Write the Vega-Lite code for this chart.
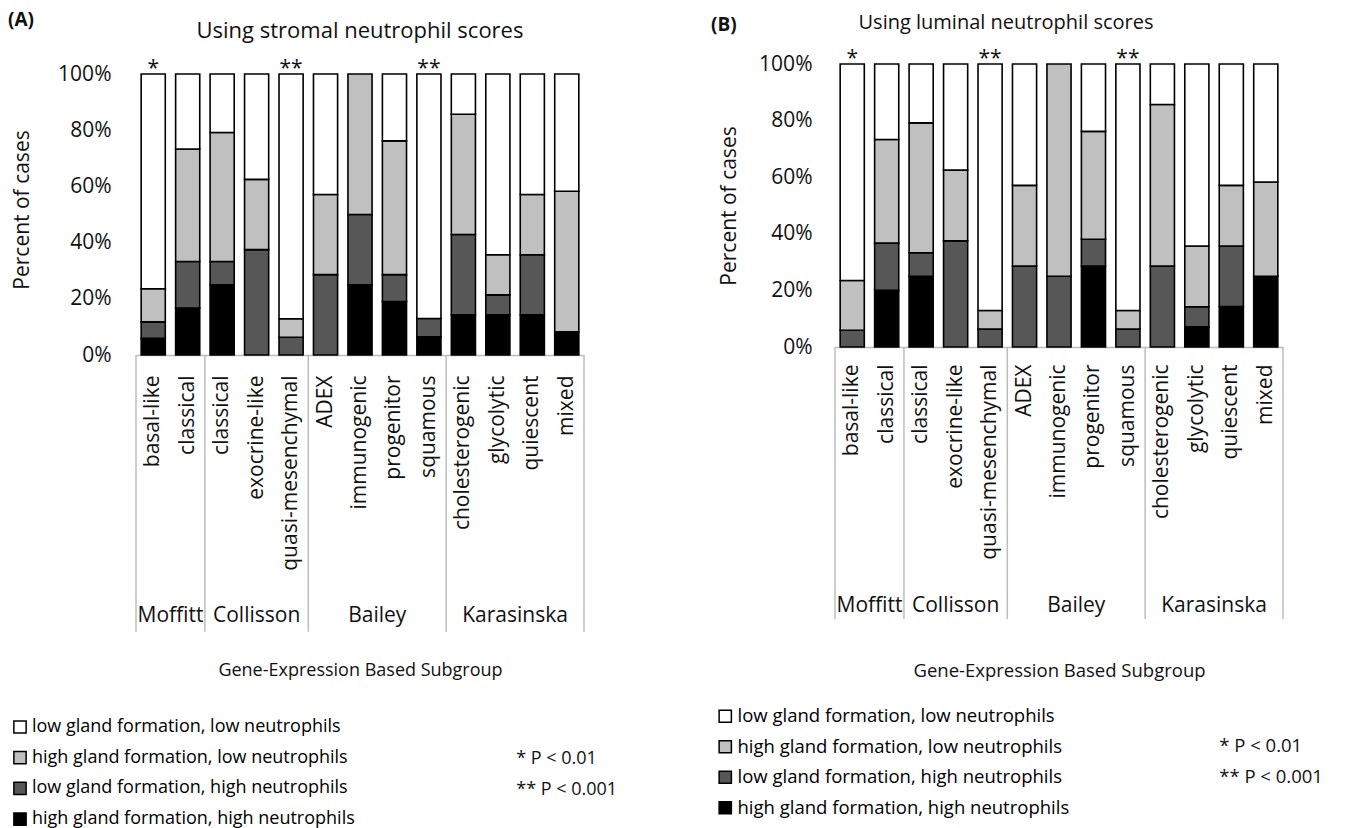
{
  "$schema": "https://vega.github.io/schema/vega-lite/v6.json",
  "background": "white",
  "padding": {"left": 8, "top": 11, "right": 5, "bottom": 0},
  "config": {
    "font": "Open Sans",
    "view": {"stroke": null},
    "axis": {"labelFont": "Open Sans", "titleFont": "Open Sans", "labelColor": "#111", "titleColor": "#111", "titleFontWeight": "normal", "grid": false},
    "title": {"font": "Open Sans", "fontWeight": "normal", "color": "#111"},
    "text": {"font": "Open Sans", "color": "#111"}
  },
  "datasets": {
    "bars": [
      {"p": "A", "k": "Moffitt: basal-like", "q": "b", "v": 5.9},
      {"p": "A", "k": "Moffitt: basal-like", "q": "d", "v": 5.9},
      {"p": "A", "k": "Moffitt: basal-like", "q": "l", "v": 11.8},
      {"p": "A", "k": "Moffitt: basal-like", "q": "w", "v": 76.4},
      {"p": "A", "k": "Moffitt: classical", "q": "b", "v": 16.7},
      {"p": "A", "k": "Moffitt: classical", "q": "d", "v": 16.6},
      {"p": "A", "k": "Moffitt: classical", "q": "l", "v": 40.0},
      {"p": "A", "k": "Moffitt: classical", "q": "w", "v": 26.7},
      {"p": "A", "k": "Collisson: classical", "q": "b", "v": 25.0},
      {"p": "A", "k": "Collisson: classical", "q": "d", "v": 8.3},
      {"p": "A", "k": "Collisson: classical", "q": "l", "v": 45.9},
      {"p": "A", "k": "Collisson: classical", "q": "w", "v": 20.8},
      {"p": "A", "k": "Collisson: exocrine-like", "q": "d", "v": 37.5},
      {"p": "A", "k": "Collisson: exocrine-like", "q": "l", "v": 25.0},
      {"p": "A", "k": "Collisson: exocrine-like", "q": "w", "v": 37.5},
      {"p": "A", "k": "Collisson: quasi-mesenchymal", "q": "d", "v": 6.3},
      {"p": "A", "k": "Collisson: quasi-mesenchymal", "q": "l", "v": 6.6},
      {"p": "A", "k": "Collisson: quasi-mesenchymal", "q": "w", "v": 87.1},
      {"p": "A", "k": "Bailey: ADEX", "q": "d", "v": 28.6},
      {"p": "A", "k": "Bailey: ADEX", "q": "l", "v": 28.5},
      {"p": "A", "k": "Bailey: ADEX", "q": "w", "v": 42.9},
      {"p": "A", "k": "Bailey: immunogenic", "q": "b", "v": 25.0},
      {"p": "A", "k": "Bailey: immunogenic", "q": "d", "v": 25.0},
      {"p": "A", "k": "Bailey: immunogenic", "q": "l", "v": 50.0},
      {"p": "A", "k": "Bailey: progenitor", "q": "b", "v": 19.0},
      {"p": "A", "k": "Bailey: progenitor", "q": "d", "v": 9.6},
      {"p": "A", "k": "Bailey: progenitor", "q": "l", "v": 47.6},
      {"p": "A", "k": "Bailey: progenitor", "q": "w", "v": 23.8},
      {"p": "A", "k": "Bailey: squamous", "q": "b", "v": 6.5},
      {"p": "A", "k": "Bailey: squamous", "q": "d", "v": 6.5},
      {"p": "A", "k": "Bailey: squamous", "q": "w", "v": 87.0},
      {"p": "A", "k": "Karasinska: cholesterogenic", "q": "b", "v": 14.3},
      {"p": "A", "k": "Karasinska: cholesterogenic", "q": "d", "v": 28.6},
      {"p": "A", "k": "Karasinska: cholesterogenic", "q": "l", "v": 42.8},
      {"p": "A", "k": "Karasinska: cholesterogenic", "q": "w", "v": 14.3},
      {"p": "A", "k": "Karasinska: glycolytic", "q": "b", "v": 14.3},
      {"p": "A", "k": "Karasinska: glycolytic", "q": "d", "v": 7.1},
      {"p": "A", "k": "Karasinska: glycolytic", "q": "l", "v": 14.3},
      {"p": "A", "k": "Karasinska: glycolytic", "q": "w", "v": 64.3},
      {"p": "A", "k": "Karasinska: quiescent", "q": "b", "v": 14.3},
      {"p": "A", "k": "Karasinska: quiescent", "q": "d", "v": 21.4},
      {"p": "A", "k": "Karasinska: quiescent", "q": "l", "v": 21.4},
      {"p": "A", "k": "Karasinska: quiescent", "q": "w", "v": 42.9},
      {"p": "A", "k": "Karasinska: mixed", "q": "b", "v": 8.3},
      {"p": "A", "k": "Karasinska: mixed", "q": "l", "v": 50.0},
      {"p": "A", "k": "Karasinska: mixed", "q": "w", "v": 41.7},

      {"p": "B", "k": "Moffitt: basal-like", "q": "d", "v": 5.9},
      {"p": "B", "k": "Moffitt: basal-like", "q": "l", "v": 17.6},
      {"p": "B", "k": "Moffitt: basal-like", "q": "w", "v": 76.5},
      {"p": "B", "k": "Moffitt: classical", "q": "b", "v": 20.0},
      {"p": "B", "k": "Moffitt: classical", "q": "d", "v": 16.7},
      {"p": "B", "k": "Moffitt: classical", "q": "l", "v": 36.6},
      {"p": "B", "k": "Moffitt: classical", "q": "w", "v": 26.7},
      {"p": "B", "k": "Collisson: classical", "q": "b", "v": 25.0},
      {"p": "B", "k": "Collisson: classical", "q": "d", "v": 8.3},
      {"p": "B", "k": "Collisson: classical", "q": "l", "v": 45.9},
      {"p": "B", "k": "Collisson: classical", "q": "w", "v": 20.8},
      {"p": "B", "k": "Collisson: exocrine-like", "q": "d", "v": 37.5},
      {"p": "B", "k": "Collisson: exocrine-like", "q": "l", "v": 25.0},
      {"p": "B", "k": "Collisson: exocrine-like", "q": "w", "v": 37.5},
      {"p": "B", "k": "Collisson: quasi-mesenchymal", "q": "d", "v": 6.3},
      {"p": "B", "k": "Collisson: quasi-mesenchymal", "q": "l", "v": 6.6},
      {"p": "B", "k": "Collisson: quasi-mesenchymal", "q": "w", "v": 87.1},
      {"p": "B", "k": "Bailey: ADEX", "q": "d", "v": 28.6},
      {"p": "B", "k": "Bailey: ADEX", "q": "l", "v": 28.5},
      {"p": "B", "k": "Bailey: ADEX", "q": "w", "v": 42.9},
      {"p": "B", "k": "Bailey: immunogenic", "q": "d", "v": 25.0},
      {"p": "B", "k": "Bailey: immunogenic", "q": "l", "v": 75.0},
      {"p": "B", "k": "Bailey: progenitor", "q": "b", "v": 28.6},
      {"p": "B", "k": "Bailey: progenitor", "q": "d", "v": 9.5},
      {"p": "B", "k": "Bailey: progenitor", "q": "l", "v": 38.1},
      {"p": "B", "k": "Bailey: progenitor", "q": "w", "v": 23.8},
      {"p": "B", "k": "Bailey: squamous", "q": "d", "v": 6.3},
      {"p": "B", "k": "Bailey: squamous", "q": "l", "v": 6.6},
      {"p": "B", "k": "Bailey: squamous", "q": "w", "v": 87.1},
      {"p": "B", "k": "Karasinska: cholesterogenic", "q": "d", "v": 28.6},
      {"p": "B", "k": "Karasinska: cholesterogenic", "q": "l", "v": 57.1},
      {"p": "B", "k": "Karasinska: cholesterogenic", "q": "w", "v": 14.3},
      {"p": "B", "k": "Karasinska: glycolytic", "q": "b", "v": 7.1},
      {"p": "B", "k": "Karasinska: glycolytic", "q": "d", "v": 7.1},
      {"p": "B", "k": "Karasinska: glycolytic", "q": "l", "v": 21.5},
      {"p": "B", "k": "Karasinska: glycolytic", "q": "w", "v": 64.3},
      {"p": "B", "k": "Karasinska: quiescent", "q": "b", "v": 14.3},
      {"p": "B", "k": "Karasinska: quiescent", "q": "d", "v": 21.4},
      {"p": "B", "k": "Karasinska: quiescent", "q": "l", "v": 21.4},
      {"p": "B", "k": "Karasinska: quiescent", "q": "w", "v": 42.9},
      {"p": "B", "k": "Karasinska: mixed", "q": "b", "v": 25.0},
      {"p": "B", "k": "Karasinska: mixed", "q": "l", "v": 33.3},
      {"p": "B", "k": "Karasinska: mixed", "q": "w", "v": 41.7}
    ],
    "sig": [
      {"k": "Moffitt: basal-like", "t": "*"},
      {"k": "Collisson: quasi-mesenchymal", "t": "**"},
      {"k": "Bailey: squamous", "t": "**"}
    ],
    "edges": [
      {"k": "Moffitt: basal-like", "e": "L"},
      {"k": "Moffitt: classical", "e": "R"},
      {"k": "Collisson: quasi-mesenchymal", "e": "R"},
      {"k": "Bailey: squamous", "e": "R"},
      {"k": "Karasinska: mixed", "e": "R"}
    ],
    "groups": [
      {"g": "Moffitt", "k": "Moffitt: classical", "e": "gap"},
      {"g": "Collisson", "k": "Collisson: exocrine-like", "e": "mid"},
      {"g": "Bailey", "k": "Bailey: progenitor", "e": "gap"},
      {"g": "Karasinska", "k": "Karasinska: quiescent", "e": "gap"}
    ],
    "pv": [
      {"t": "* P < 0.01", "r": 1},
      {"t": "** P < 0.001", "r": 2}
    ]
  },
  "resolve": {"scale": {"color": "independent"}, "legend": {"color": "independent"}},
  "spacing": 93,
  "hconcat": [
    {
      "title": {"text": "(A)", "anchor": "start", "fontWeight": "bold", "fontSize": 19, "offset": -10, "dx": -3},
      "vconcat": [
        {
          "width": 448,
          "height": 291,
          "title": {"text": "Using stromal neutrophil scores", "fontSize": 22, "offset": 15},
          "layer": [
            {
              "data": {"name": "bars"},
              "transform": [{"filter": "datum.p === 'A'"}],
              "mark": {"type": "bar", "stroke": "black", "strokeWidth": 1.6},
              "encoding": {
                "x": {"field": "k", "type": "nominal",
                  "scale": {"domain": ["Moffitt: basal-like", "Moffitt: classical", "Collisson: classical", "Collisson: exocrine-like", "Collisson: quasi-mesenchymal", "Bailey: ADEX", "Bailey: immunogenic", "Bailey: progenitor", "Bailey: squamous", "Karasinska: cholesterogenic", "Karasinska: glycolytic", "Karasinska: quiescent", "Karasinska: mixed"], "paddingInner": 0.3, "paddingOuter": 0.15},
                  "axis": {"title": "Gene-Expression Based Subgroup", "titleFontSize": 18, "titlePadding": 106, "labelExpr": "split(datum.label, ': ')[1]", "labelAngle": 270, "labelAlign": "right", "labelBaseline": "middle", "labelFontSize": 21, "labelPadding": 20, "labelLimit": 400, "ticks": false, "domainColor": "#bdbdbd", "domainWidth": 1.5}},
                "y": {"field": "v", "type": "quantitative", "stack": "zero",
                  "scale": {"domain": [0, 103.56], "nice": false},
                  "axis": {"title": "Percent of cases", "titleFontSize": 21, "titlePadding": 25, "values": [0, 20, 40, 60, 80, 100], "labelExpr": "datum.value + '%'", "labelFontSize": 21, "labelPadding": 25, "domain": false, "ticks": false}},
                "color": {"field": "q", "type": "nominal",
                  "scale": {"domain": ["w", "l", "d", "b"], "range": ["#ffffff", "#c0c0c0", "#575757", "#000000"]},
                  "legend": {"title": null, "orient": "none", "legendX": -125, "legendY": 654, "symbolType": "square", "symbolSize": 150, "symbolStrokeColor": "black", "symbolStrokeWidth": 1.5, "labelFontSize": 18, "labelLimit": 600, "rowPadding": 10.7, "labelOffset": 3,
                    "labelExpr": "datum.label === 'w' ? 'low gland formation, low neutrophils' : datum.label === 'l' ? 'high gland formation, low neutrophils' : datum.label === 'd' ? 'low gland formation, high neutrophils' : 'high gland formation, high neutrophils'"}},
                "order": {"field": "q", "type": "ordinal", "sort": "ascending"}
              }
            },
            {
              "data": {"name": "sig"},
              "mark": {"type": "text", "fontSize": 21, "baseline": "alphabetic", "dy": 1},
              "encoding": {
                "x": {"field": "k", "type": "nominal"},
                "y": {"datum": 100, "type": "quantitative"},
                "text": {"field": "t"}
              }
            },
            {
              "data": {"name": "edges"},
              "transform": [{"filter": "datum.e === 'L'"}],
              "mark": {"type": "rule", "color": "#bdbdbd", "strokeWidth": 1.5},
              "encoding": {
                "x": {"field": "k", "type": "nominal", "bandPosition": -0.2143},
                "y": {"datum": 0, "type": "quantitative"},
                "y2": {"datum": -98.5}
              }
            },
            {
              "data": {"name": "edges"},
              "transform": [{"filter": "datum.e === 'R'"}],
              "mark": {"type": "rule", "color": "#bdbdbd", "strokeWidth": 1.5},
              "encoding": {
                "x": {"field": "k", "type": "nominal", "bandPosition": 1.2143},
                "y": {"datum": 0, "type": "quantitative"},
                "y2": {"datum": -98.5}
              }
            },
            {
              "data": {"name": "groups"},
              "transform": [{"filter": "datum.e === 'gap'"}],
              "mark": {"type": "text", "fontSize": 21, "baseline": "alphabetic"},
              "encoding": {
                "x": {"field": "k", "type": "nominal", "bandPosition": -0.2143},
                "y": {"datum": -95, "type": "quantitative"},
                "text": {"field": "g"}
              }
            },
            {
              "data": {"name": "groups"},
              "transform": [{"filter": "datum.e === 'mid'"}],
              "mark": {"type": "text", "fontSize": 21, "baseline": "alphabetic"},
              "encoding": {
                "x": {"field": "k", "type": "nominal"},
                "y": {"datum": -95, "type": "quantitative"},
                "text": {"field": "g"}
              }
            },
            {
              "data": {"name": "pv"},
              "transform": [{"filter": "datum.r === 1"}],
              "mark": {"type": "text", "fontSize": 18, "align": "left", "baseline": "middle", "dx": -4},
              "encoding": {
                "x": {"datum": "Karasinska: quiescent", "type": "nominal", "bandPosition": 0},
                "y": {"datum": -143.8, "type": "quantitative"},
                "text": {"field": "t"}
              }
            },
            {
              "data": {"name": "pv"},
              "transform": [{"filter": "datum.r === 2"}],
              "mark": {"type": "text", "fontSize": 18, "align": "left", "baseline": "middle", "dx": -4},
              "encoding": {
                "x": {"datum": "Karasinska: quiescent", "type": "nominal", "bandPosition": 0},
                "y": {"datum": -154.8, "type": "quantitative"},
                "text": {"field": "t"}
              }
            }
          ]
        }
      ]
    },
    {
      "title": {"text": "(B)", "anchor": "start", "fontWeight": "bold", "fontSize": 19, "offset": -22, "dx": -5},
      "vconcat": [
        {
          "width": 448,
          "height": 283,
          "title": {"text": "Using luminal neutrophil scores", "fontSize": 20, "offset": 15, "dx": -53},
          "layer": [
            {
              "data": {"name": "bars"},
              "transform": [{"filter": "datum.p === 'B'"}],
              "mark": {"type": "bar", "stroke": "black", "strokeWidth": 1.6},
              "encoding": {
                "x": {"field": "k", "type": "nominal",
                  "scale": {"domain": ["Moffitt: basal-like", "Moffitt: classical", "Collisson: classical", "Collisson: exocrine-like", "Collisson: quasi-mesenchymal", "Bailey: ADEX", "Bailey: immunogenic", "Bailey: progenitor", "Bailey: squamous", "Karasinska: cholesterogenic", "Karasinska: glycolytic", "Karasinska: quiescent", "Karasinska: mixed"], "paddingInner": 0.3, "paddingOuter": 0.15},
                  "axis": {"title": "Gene-Expression Based Subgroup", "titleFontSize": 18.5, "titlePadding": 114, "labelExpr": "split(datum.label, ': ')[1]", "labelAngle": 270, "labelAlign": "right", "labelBaseline": "middle", "labelFontSize": 21, "labelPadding": 17, "labelLimit": 400, "ticks": false, "domainColor": "#bdbdbd", "domainWidth": 1.5}},
                "y": {"field": "v", "type": "quantitative", "stack": "zero",
                  "scale": {"domain": [0, 100], "nice": false},
                  "axis": {"title": "Percent of cases", "titleFontSize": 21, "titlePadding": 19, "values": [0, 20, 40, 60, 80, 100], "labelExpr": "datum.value + '%'", "labelFontSize": 21, "labelPadding": 23, "domain": false, "ticks": false}},
                "color": {"field": "q", "type": "nominal",
                  "scale": {"domain": ["w", "l", "d", "b"], "range": ["#ffffff", "#c0c0c0", "#575757", "#000000"]},
                  "legend": {"title": null, "orient": "none", "legendX": -119, "legendY": 643, "symbolType": "square", "symbolSize": 150, "symbolStrokeColor": "black", "symbolStrokeWidth": 1.5, "labelFontSize": 18.5, "labelLimit": 600, "rowPadding": 11.5, "labelOffset": 3,
                    "labelExpr": "datum.label === 'w' ? 'low gland formation, low neutrophils' : datum.label === 'l' ? 'high gland formation, low neutrophils' : datum.label === 'd' ? 'low gland formation, high neutrophils' : 'high gland formation, high neutrophils'"}},
                "order": {"field": "q", "type": "ordinal", "sort": "ascending"}
              }
            },
            {
              "data": {"name": "sig"},
              "mark": {"type": "text", "fontSize": 21, "baseline": "alphabetic", "dy": 1},
              "encoding": {
                "x": {"field": "k", "type": "nominal"},
                "y": {"datum": 100, "type": "quantitative"},
                "text": {"field": "t"}
              }
            },
            {
              "data": {"name": "edges"},
              "transform": [{"filter": "datum.e === 'L'"}],
              "mark": {"type": "rule", "color": "#bdbdbd", "strokeWidth": 1.5},
              "encoding": {
                "x": {"field": "k", "type": "nominal", "bandPosition": -0.2143},
                "y": {"datum": 0, "type": "quantitative"},
                "y2": {"datum": -96.1}
              }
            },
            {
              "data": {"name": "edges"},
              "transform": [{"filter": "datum.e === 'R'"}],
              "mark": {"type": "rule", "color": "#bdbdbd", "strokeWidth": 1.5},
              "encoding": {
                "x": {"field": "k", "type": "nominal", "bandPosition": 1.2143},
                "y": {"datum": 0, "type": "quantitative"},
                "y2": {"datum": -96.1}
              }
            },
            {
              "data": {"name": "groups"},
              "transform": [{"filter": "datum.e === 'gap'"}],
              "mark": {"type": "text", "fontSize": 21, "baseline": "alphabetic"},
              "encoding": {
                "x": {"field": "k", "type": "nominal", "bandPosition": -0.2143},
                "y": {"datum": -93.6, "type": "quantitative"},
                "text": {"field": "g"}
              }
            },
            {
              "data": {"name": "groups"},
              "transform": [{"filter": "datum.e === 'mid'"}],
              "mark": {"type": "text", "fontSize": 21, "baseline": "alphabetic"},
              "encoding": {
                "x": {"field": "k", "type": "nominal"},
                "y": {"datum": -93.6, "type": "quantitative"},
                "text": {"field": "g"}
              }
            },
            {
              "data": {"name": "pv"},
              "transform": [{"filter": "datum.r === 1"}],
              "mark": {"type": "text", "fontSize": 18.5, "align": "left", "baseline": "middle", "dx": 0},
              "encoding": {
                "x": {"datum": "Karasinska: quiescent", "type": "nominal", "bandPosition": 0},
                "y": {"datum": -141, "type": "quantitative"},
                "text": {"field": "t"}
              }
            },
            {
              "data": {"name": "pv"},
              "transform": [{"filter": "datum.r === 2"}],
              "mark": {"type": "text", "fontSize": 18.5, "align": "left", "baseline": "middle", "dx": 0},
              "encoding": {
                "x": {"datum": "Karasinska: quiescent", "type": "nominal", "bandPosition": 0},
                "y": {"datum": -152, "type": "quantitative"},
                "text": {"field": "t"}
              }
            }
          ]
        }
      ]
    }
  ]
}
